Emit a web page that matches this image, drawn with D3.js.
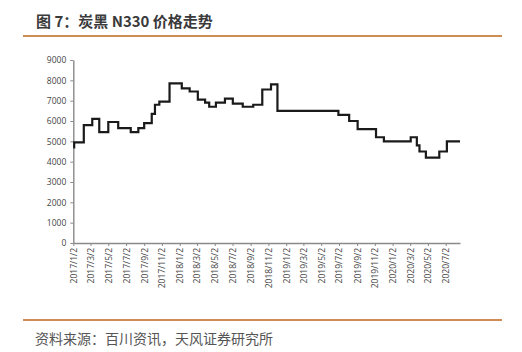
<!DOCTYPE html>
<html>
<head>
<meta charset="utf-8">
<script src="https://cdn.jsdelivr.net/npm/d3@7"></script>
<style>
  body { margin: 0; background: #fff; }
  svg { display: block; }
</style>
</head>
<body>
<svg width="522" height="352"></svg>
<script>
let title = '图 7：炭黑 N330 价格走势'
let source = '资料来源：百川资讯，天风证券研究所'

// change points of the weekly price (yuan/ton), step after
let dates = [
  '2017-01-02', '2017-01-05', '2017-02-07', '2017-03-08', '2017-04-01',
  '2017-05-02', '2017-06-05', '2017-07-18', '2017-08-13', '2017-09-02',
  '2017-09-28', '2017-10-09', '2017-10-24', '2017-11-28', '2018-01-09',
  '2018-02-05', '2018-03-05', '2018-03-30', '2018-04-13', '2018-05-06',
  '2018-06-06', '2018-07-03', '2018-08-06', '2018-09-11', '2018-10-12',
  '2018-11-11', '2018-12-03', '2019-06-30', '2019-08-06', '2019-09-04',
  '2019-11-06', '2019-12-03', '2020-03-04', '2020-03-25', '2020-04-03',
  '2020-04-25', '2020-06-10', '2020-07-06', '2020-08-20'
]
let prices = [
  4700, 4950, 5800, 6100, 5450,
  5950, 5650, 5450, 5650, 5900,
  6350, 6800, 6950, 7850, 7600,
  7450, 7050, 6900, 6700, 6900,
  7100, 6850, 6700, 6800, 7550,
  7800, 6500, 6300, 6000, 5600,
  5200, 5000, 5200, 4800, 4500,
  4200, 4500, 5000, 5000
]
let tickLabels = [
  '2017/1/2', '2017/3/2', '2017/5/2', '2017/7/2', '2017/9/2', '2017/11/2',
  '2018/1/2', '2018/3/2', '2018/5/2', '2018/7/2', '2018/9/2', '2018/11/2',
  '2019/1/2', '2019/3/2', '2019/5/2', '2019/7/2', '2019/9/2', '2019/11/2',
  '2020/1/2', '2020/3/2', '2020/5/2', '2020/7/2'
]
let yTicks = [0, 1000, 2000, 3000, 4000, 5000, 6000, 7000, 8000, 9000]

let parseIso = d3.timeParse('%Y-%m-%d')
let parseTick = d3.timeParse('%Y/%m/%d')

let series = dates.map((d, i) => ({ date: parseIso(d), price: prices[i] }))
let tickDates = tickLabels.map(t => parseTick(t))

let margin = { top: 60, bottom: 109, left: 73.3, right: 62 }
let width = 522
let height = 352

let svg = d3.select('svg')
let font = '"Noto Sans CJK SC", "Noto Sans", sans-serif'
let orange = '#cf8d52'

// title and rules
svg.append('text')
  .attr('x', 36)
  .attr('y', 26.5)
  .attr('font-family', font)
  .attr('font-size', 15)
  .attr('font-weight', 'bold')
  .attr('fill', '#3a3a3a')
  .text(title)

svg.append('line')
  .attr('x1', 23).attr('x2', 502)
  .attr('y1', 36).attr('y2', 36)
  .attr('stroke', orange)
  .attr('stroke-width', 2)

svg.append('line')
  .attr('x1', 23).attr('x2', 502)
  .attr('y1', 320).attr('y2', 320)
  .attr('stroke', orange)
  .attr('stroke-width', 2)

svg.append('text')
  .attr('x', 35)
  .attr('y', 344)
  .attr('font-family', font)
  .attr('font-size', 14)
  .attr('fill', '#555')
  .text(source)

let xScale = d3.scaleTime()
  .domain(d3.extent(series, d => d.date))
  .range([margin.left, width - margin.right])

let yScale = d3.scaleLinear()
  .domain([0, 9000])
  .range([height - margin.bottom, margin.top])

let line = d3.line()
  .x(d => xScale(d.date))
  .y(d => yScale(d.price))
  .curve(d3.curveStepAfter)

let yAxis = d3.axisLeft(yScale)
  .tickValues(yTicks)
  .tickSize(3)
  .tickSizeOuter(0)
  .tickPadding(4)
  .tickFormat(d3.format('d'))

let xAxis = d3.axisBottom(xScale)
  .tickValues(tickDates)
  .tickSize(3)
  .tickSizeOuter(0)
  .tickFormat((d, i) => tickLabels[i])

let gy = svg.append('g')
  .attr('transform', 'translate(' + [margin.left, 0] + ')')
  .call(yAxis)

let gx = svg.append('g')
  .attr('transform', 'translate(' + [0, height - margin.bottom] + ')')
  .call(xAxis)

gx.selectAll('text')
  .attr('transform', 'rotate(-90)')
  .attr('text-anchor', 'end')
  .attr('x', -5)
  .attr('y', 0)
  .attr('dy', '0.35em')

for (let g of [gx, gy]) {
  g.select('.domain').attr('stroke', '#8a8a8a').attr('stroke-width', 1.4)
  g.selectAll('.tick line').attr('stroke', '#8a8a8a')
  g.selectAll('text')
    .attr('font-family', '"Open Sans", sans-serif')
    .attr('font-size', 8.5)
    .attr('fill', '#444')
}

svg.append('path')
  .datum(series)
  .attr('fill', 'none')
  .attr('stroke', '#1a1a1a')
  .attr('stroke-width', 2.2)
  .attr('d', line)
</script>
</body>
</html>
